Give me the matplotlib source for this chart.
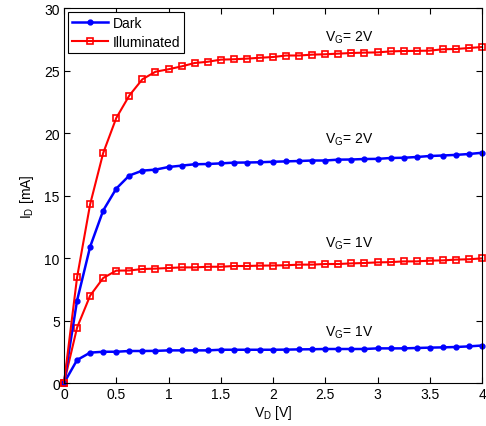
import numpy as np
import matplotlib.pyplot as plt

plt.rcParams['font.family'] = ['Liberation Sans', 'DejaVu Sans']
plt.rcParams['font.size'] = 10

vd = np.arange(33) * 0.125

dark_1v = [0, 1.84, 2.43, 2.5, 2.5, 2.56, 2.56, 2.57, 2.61, 2.61, 2.61, 2.61, 2.66, 2.66, 2.66,
           2.66, 2.66, 2.67, 2.69, 2.70, 2.72, 2.72, 2.72, 2.72, 2.77, 2.77, 2.77, 2.80, 2.83,
           2.85, 2.88, 2.93, 3.0]
dark_2v = [0, 6.6, 10.9, 13.8, 15.55, 16.6, 16.99, 17.07, 17.28, 17.39, 17.5, 17.52, 17.57,
           17.63, 17.64, 17.66, 17.7, 17.73, 17.76, 17.8, 17.8, 17.87, 17.88, 17.92, 17.93,
           18.0, 18.02, 18.08, 18.16, 18.2, 18.25, 18.32, 18.42]
illum_1v = [0, 4.43, 6.99, 8.4, 8.99, 9.0, 9.12, 9.15, 9.2, 9.25, 9.25, 9.3, 9.3, 9.36, 9.36,
            9.39, 9.4, 9.42, 9.47, 9.47, 9.52, 9.52, 9.57, 9.6, 9.65, 9.67, 9.73, 9.73,
            9.79, 9.81, 9.87, 9.9, 9.97]
illum_2v = [0, 8.45, 14.3, 18.4, 21.2, 23.0, 24.3, 24.9, 25.1, 25.33, 25.6, 25.7, 25.87, 25.9,
            25.95, 26.02, 26.08, 26.2, 26.2, 26.27, 26.3, 26.35, 26.4, 26.43, 26.45, 26.53,
            26.56, 26.57, 26.59, 26.7, 26.72, 26.8, 26.88]

labels = [(2.5, 27.4, 'V$_\\mathregular{G}$= 2V'),
          (2.5, 19.2, 'V$_\\mathregular{G}$= 2V'),
          (2.5, 10.9, 'V$_\\mathregular{G}$= 1V'),
          (2.5, 3.8, 'V$_\\mathregular{G}$= 1V')]

fig = plt.figure(figsize=(4.86, 4.27), dpi=100)
ax = fig.add_axes([0.1317, 0.1007, 0.8601, 0.8782])

dark_style = dict(color='#0000ff', lw=1.8, marker='o', ms=3.5, mfc='#0000ff', mec='#0000ff',
                  clip_on=False)
illum_style = dict(color='#ff0000', lw=1.5, marker='s', ms=5, mfc='none', mec='#ff0000', mew=1.2,
                   clip_on=False)

ax.plot(vd, dark_1v, label='Dark', **dark_style)
ax.plot(vd, illum_1v, label='Illuminated', **illum_style)
ax.plot(vd, dark_2v, **dark_style)
ax.plot(vd, illum_2v, **illum_style)

for x, y, s in labels:
    ax.text(x, y, s, fontsize=10, ha='left', va='baseline')

ax.set_xlim(0, 4)
ax.set_ylim(0, 30)
ax.set_xticks(np.arange(0, 4.01, 0.5))
ax.set_xticklabels(['0', '0.5', '1', '1.5', '2', '2.5', '3', '3.5', '4'])
ax.set_yticks(np.arange(0, 31, 5))
ax.tick_params(direction='in', top=True, right=True, length=4, pad=3, labelsize=10)
ax.set_xlabel('V$_\\mathregular{D}$ [V]', labelpad=1)
ax.set_ylabel('I$_\\mathregular{D}$ [mA]', labelpad=6)

leg = ax.legend(loc='upper left', fancybox=False, edgecolor='black', framealpha=1,
                borderaxespad=0.3, handlelength=2.6, borderpad=0.3, labelspacing=0.3,
                handletextpad=0.3)
leg.get_frame().set_linewidth(0.8)

fig.savefig('out.png', dpi=100)
